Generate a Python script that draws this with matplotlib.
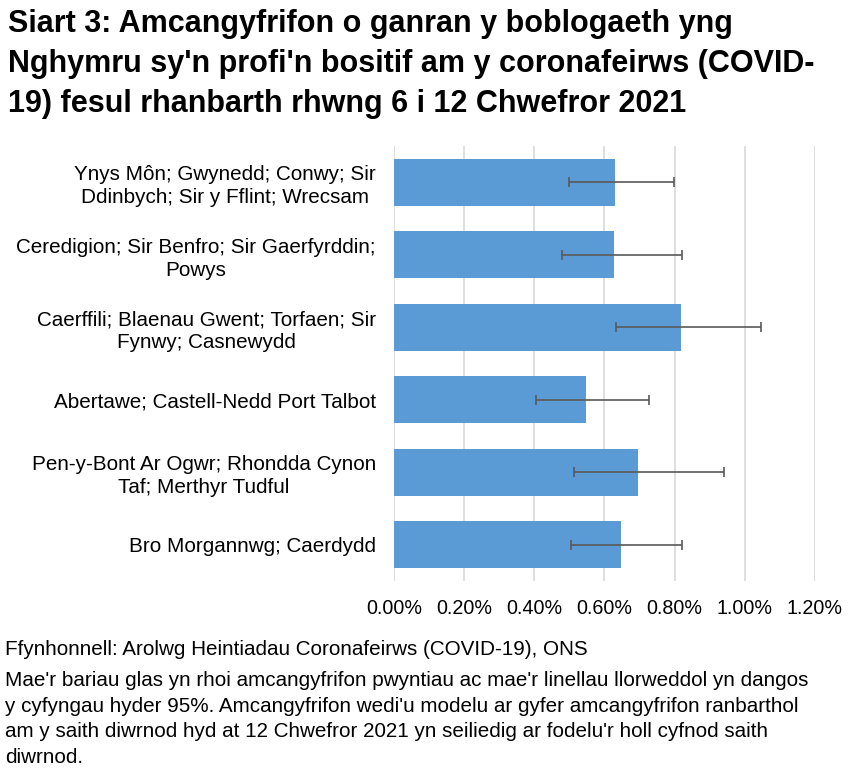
import matplotlib.pyplot as plt
from matplotlib.ticker import FuncFormatter

plt.rcParams['font.family'] = ['Liberation Sans', 'DejaVu Sans']

regions = [
    "Ynys Môn; Gwynedd; Conwy; Sir\nDdinbych; Sir y Fflint; Wrecsam",
    "Ceredigion; Sir Benfro; Sir Gaerfyrddin;\nPowys",
    "Caerffili; Blaenau Gwent; Torfaen; Sir\nFynwy; Casnewydd",
    "Abertawe; Castell-Nedd Port Talbot",
    "Pen-y-Bont Ar Ogwr; Rhondda Cynon\nTaf; Merthyr Tudful",
    "Bro Morgannwg; Caerdydd",
]
# percent positive (point estimate) and 95% confidence limits
estimate = [0.63, 0.626, 0.817, 0.546, 0.695, 0.646]
lower_ci = [0.499, 0.479, 0.633, 0.405, 0.512, 0.505]
upper_ci = [0.798, 0.821, 1.046, 0.727, 0.941, 0.821]
x_ticks = [0.0, 0.2, 0.4, 0.6, 0.8, 1.0, 1.2]

title = ("Siart 3: Amcangyfrifon o ganran y boblogaeth yng\n"
         "Nghymru sy'n profi'n bositif am y coronafeirws (COVID-\n"
         "19) fesul rhanbarth rhwng 6 i 12 Chwefror 2021")
source = "Ffynhonnell: Arolwg Heintiadau Coronafeirws (COVID-19), ONS"
note = ("Mae'r bariau glas yn rhoi amcangyfrifon pwyntiau ac mae'r linellau llorweddol yn dangos\n"
        "y cyfyngau hyder 95%. Amcangyfrifon wedi'u modelu ar gyfer amcangyfrifon ranbarthol\n"
        "am y saith diwrnod hyd at 12 Chwefror 2021 yn seiliedig ar fodelu'r holl cyfnod saith\n"
        "diwrnod.")

fig = plt.figure(figsize=(8.5, 7.76), dpi=100)
ax = fig.add_axes([0.4635, 0.2513, 0.4953, 0.5606])

ypos = list(range(len(regions)))
err = [[e - lo for e, lo in zip(estimate, lower_ci)],
       [hi - e for e, hi in zip(estimate, upper_ci)]]
ax.barh(ypos, estimate, height=0.65, color='#5B9BD5', zorder=2)
ax.errorbar(estimate, ypos, xerr=err, fmt='none', ecolor='#595959',
            elinewidth=1.2, capsize=3.5, capthick=1.2, zorder=3)

ax.set_ylim(len(regions) - 0.5, -0.5)
ax.set_xlim(0, 1.2)
ax.set_xticks(x_ticks)
ax.xaxis.set_major_formatter(FuncFormatter(lambda v, p: f"{v:.2f}%"))
ax.set_yticks(ypos)
ax.set_yticklabels(regions, multialignment='center', linespacing=1.27)
ax.tick_params(axis='y', length=0, pad=13, labelsize=14.9)
ax.tick_params(axis='x', length=0, pad=13, labelsize=14.2)
ax.grid(axis='x', color='#D9D9D9', linewidth=1.2, zorder=0)
ax.set_axisbelow(True)
for s in ax.spines.values():
    s.set_visible(False)

fig.text(0.009, 0.9175, title, fontsize=22, fontweight='bold',
         va='center', ha='left', linespacing=1.45)
fig.text(0.006, 0.1624, source, fontsize=14.9, va='center', ha='left')
fig.text(0.006, 0.0735, note, fontsize=14.9, va='center', ha='left', linespacing=1.44)

fig.savefig('out.png', dpi=100)
